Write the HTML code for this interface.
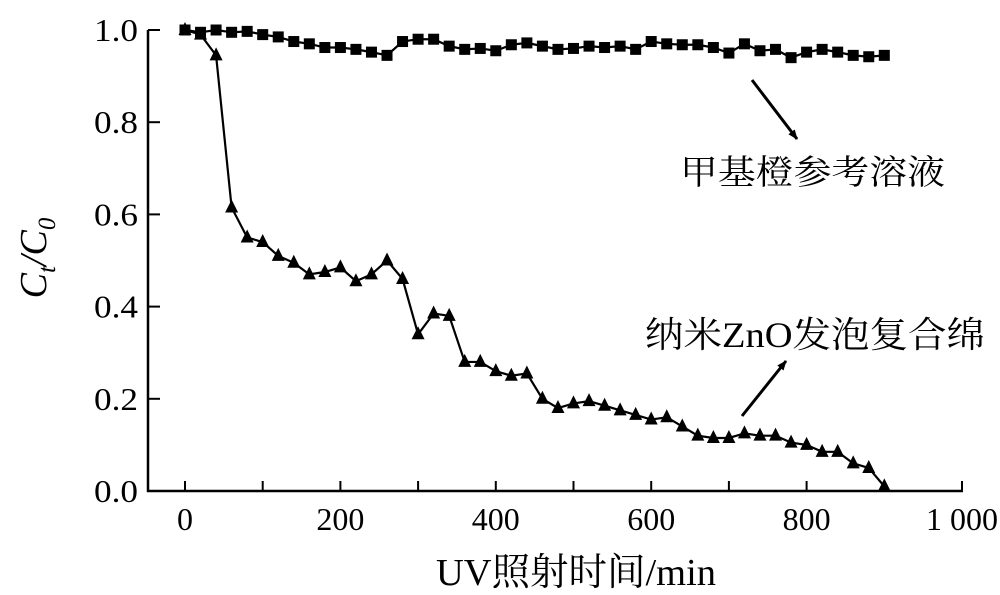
<!DOCTYPE html>
<html><head><meta charset="utf-8"><style>
html,body{margin:0;padding:0;background:#fff;}
svg{display:block;}
text{font-family:"Liberation Serif","Noto Serif CJK SC",serif;fill:#000;}
</style></head><body>
<svg width="1000" height="595" viewBox="0 0 1000 595" xmlns="http://www.w3.org/2000/svg">
<defs>
<marker id="ah" markerWidth="10" markerHeight="10" refX="9" refY="5" orient="auto" markerUnits="userSpaceOnUse" viewBox="0 0 10 10">
<path d="M0,1 L10,5 L0,9 Z" fill="#000"/>
</marker>
</defs>
<g stroke="#000" stroke-width="2.5" fill="none">
<line x1="148" y1="30" x2="148" y2="492"/>
<line x1="147" y1="491" x2="963" y2="491"/>
</g>
<g id="ticks" stroke="#000" stroke-width="2"></g>
<g font-size="32" text-anchor="end" id="ylab"></g>
<g font-size="32" text-anchor="middle" id="xlab"></g>
<text x="436" y="585" font-size="38" textLength="280" lengthAdjust="spacingAndGlyphs">UV照射时间/min</text>
<text transform="translate(46,258) rotate(-90)" font-size="38" text-anchor="middle" font-style="italic">C<tspan font-size="25" dy="9">t</tspan><tspan dy="-9">/C</tspan><tspan font-size="25" dy="9">0</tspan></text>
<g id="series"></g>
<line x1="752" y1="80" x2="797" y2="139" stroke="#000" stroke-width="3" marker-end="url(#ah)"/>
<line x1="742" y1="416" x2="786" y2="361" stroke="#000" stroke-width="3" marker-end="url(#ah)"/>
<text x="680" y="184" font-size="34" textLength="265" lengthAdjust="spacingAndGlyphs">甲基橙参考溶液</text>
<text x="645" y="347" font-size="36" textLength="340" lengthAdjust="spacingAndGlyphs">纳米ZnO发泡复合绵</text>
</svg>
<script>
const NS="http://www.w3.org/2000/svg";
const X=v=>185+v*0.777, Y=v=>491-v*461;
const t=document.getElementById('ticks'),yl=document.getElementById('ylab'),xl=document.getElementById('xlab');
function el(p,n,a,txt){const e=document.createElementNS(NS,n);for(const k in a)e.setAttribute(k,a[k]);if(txt!=null)e.textContent=txt;p.appendChild(e);return e;}
for(let i=0;i<=5;i++){const v=i*0.2,y=Y(v);el(t,'line',{x1:148,y1:y,x2:160,y2:y});el(yl,'text',{x:138,y:y+11,textLength:44,lengthAdjust:'spacingAndGlyphs'},v.toFixed(1));}
for(let i=0;i<=10;i++){const x=X(i*100);el(t,'line',{x1:x,y1:491,x2:x,y2:481});if(i%2==0){const s=i==10?'1 000':String(i*100);el(xl,'text',{x:x,y:530,textLength:i==0?16:(i==10?72:48),lengthAdjust:'spacingAndGlyphs'},s);}}
const sq=[1.0,.995,1.0,.995,.997,.99,.985,.975,.97,.962,.962,.958,.952,.945,.975,.98,.98,.965,.958,.96,.955,.968,.972,.965,.958,.96,.965,.962,.965,.958,.975,.97,.968,.968,.962,.95,.97,.955,.958,.94,.952,.958,.952,.945,.942,.945];
const tr=[1.0,.99,.945,.615,.55,.54,.51,.495,.47,.475,.485,.455,.47,.5,.46,.34,.385,.38,.28,.28,.26,.25,.255,.2,.18,.19,.195,.185,.175,.165,.155,.16,.14,.12,.115,.115,.125,.12,.12,.105,.1,.085,.085,.06,.05,.01];
const s=document.getElementById('series');
function line(d){el(s,'polyline',{points:d.map((v,i)=>X(i*20)+','+Y(v)).join(' '),fill:'none',stroke:'#000','stroke-width':2.2});}
line(sq);line(tr);
sq.forEach((v,i)=>{el(s,'rect',{x:X(i*20)-5.5,y:Y(v)-5.5,width:11,height:11,fill:'#000'});});
tr.forEach((v,i)=>{const x=X(i*20),y=Y(v);el(s,'polygon',{points:`${x},${y-8} ${x-6.5},${y+5} ${x+6.5},${y+5}`,fill:'#000'});});
</script>
</body></html>
